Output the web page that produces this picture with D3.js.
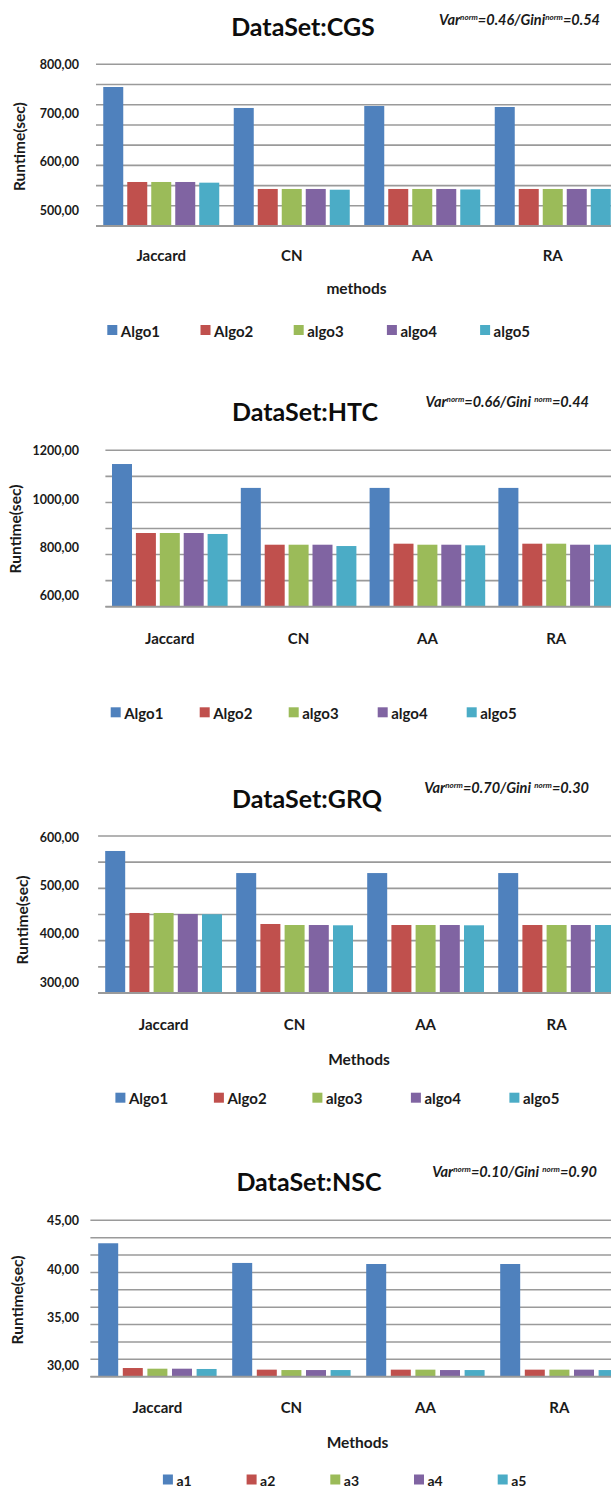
<!DOCTYPE html>
<html>
<head>
<meta charset="utf-8">
<script src="https://cdn.jsdelivr.net/npm/d3@7"></script>
<style>
  html, body { margin: 0; padding: 0; background: #ffffff; }
  svg { display: block; font-family: Lato, "Open Sans", sans-serif; }
</style>
</head>
<body>
<svg id="chart" width="611" height="1488"></svg>
<script>
// ---------------- data ----------------
const categories = ["Jaccard", "CN", "AA", "RA"];
const seriesAlgo = ["Algo1", "Algo2", "algo3", "algo4", "algo5"];
const seriesShort = ["a1", "a2", "a3", "a4", "a5"];
const seriesColors = ["#4F81BD", "#C0504D", "#9BBB59", "#8064A2", "#4BACC6"];

// values per category (rows) and series (columns)
const cgsValues = [
  [753.5, 558.8, 558.8, 558.8, 557.4],
  [710.5, 544.5, 544.5, 544.5, 543.0],
  [714.5, 544.5, 544.5, 544.5, 543.5],
  [712.5, 544.5, 544.5, 544.5, 544.5]
];
const htcValues = [
  [1146, 860, 860, 860, 856],
  [1047, 811.5, 811.5, 811.5, 806],
  [1047, 815.7, 811.5, 811.5, 809],
  [1047, 815.7, 815.7, 811.5, 811.5]
];
const grqValues = [
  [571.7, 443.4, 443.4, 441.3, 440.7],
  [526, 420.6, 418.5, 418.5, 417.9],
  [526, 418.5, 418.5, 418.5, 417.9],
  [526, 418.5, 418.5, 418.5, 418.5]
];
const nscValues = [
  [42.69, 29.76, 29.69, 29.69, 29.66],
  [40.65, 29.59, 29.55, 29.55, 29.55],
  [40.54, 29.59, 29.59, 29.55, 29.55],
  [40.54, 29.59, 29.59, 29.59, 29.55]
];

const cgsTicks = [500, 600, 700, 800];
const htcTicks = [600, 800, 1000, 1200];
const grqTicks = [300, 400, 500, 600];
const nscTicks = [30, 35, 40, 45];

const titles = ["DataSet:CGS", "DataSet:HTC", "DataSet:GRQ", "DataSet:NSC"];
const varNorm = ["0.46", "0.66", "0.70", "0.10"];
const giniNorm = ["0.54", "0.44", "0.30", "0.90"];
const xTitles = ["methods", "", "Methods", "Methods"];

// ---------------- layout ----------------
const W = 611;
const panels = [
  { values: cgsValues, ticks: cgsTicks, series: seriesAlgo, domain: [468.6, 800], grid: 8,
    top: 64.3, bottom: 226, left: 96, step: 130.5, barStep: 24,
    titleX: 303, titleY: 36, annRight: 600, annY: 25, annGap: false,
    yTitleX: 19, yTitleY: 146.7, catY: 255, xTitleX: 356.5, xTitleY: 288.3,
    legX: 107.3, legStep: 93.2, legY: 330, legFont: 15 },
  { values: htcValues, ticks: htcTicks, series: seriesAlgo, domain: [554.5, 1202.9], grid: 6,
    top: 450.3, bottom: 606.7, left: 105.4, step: 128.8, barStep: 23.9,
    titleX: 305, titleY: 421, annRight: 589, annY: 406.7, annGap: true,
    yTitleX: 15, yTitleY: 529, catY: 638.3, xTitleX: 0, xTitleY: 0,
    legX: 110.7, legStep: 89, legY: 712.3, legFont: 15 },
  { values: grqValues, ticks: grqTicks, series: seriesAlgo, domain: [277.8, 602.7], grid: 6,
    top: 836, bottom: 993, left: 98.1, step: 131, barStep: 24.2,
    titleX: 307, titleY: 808, annRight: 589, annY: 793.3, annGap: true,
    yTitleX: 21.7, yTitleY: 920, catY: 1024.3, xTitleX: 359, xTitleY: 1059,
    legX: 115.4, legStep: 98.5, legY: 1097.7, legFont: 15 },
  { values: nscValues, ticks: nscTicks, series: seriesShort, domain: [28.86, 45.07], grid: 9,
    top: 1220.3, bottom: 1376.7, left: 90.4, step: 134, barStep: 24.6,
    titleX: 309, titleY: 1191, annRight: 597, annY: 1176.7, annGap: true,
    yTitleX: 17, yTitleY: 1300, catY: 1407.3, xTitleX: 357.5, xTitleY: 1441.7,
    legX: 162.9, legStep: 83.7, legY: 1479.5, legFont: 14 }
];

const svg = d3.select("#chart");
svg.append("rect").attr("width", W).attr("height", 1488).attr("fill", "#fff");

const fmt = v => d3.format(".2f")(v).replace(".", ",");
const barW = 20;

panels.forEach((p, pi) => {
  const g = svg.append("g");
  const y = d3.scaleLinear().domain(p.domain).range([p.bottom, p.top]);
  const bw = 4 * p.barStep + barW;
  const pad = 1 - bw / p.step;
  const x0 = d3.scaleBand().domain(categories)
    .range([p.left, p.left + categories.length * p.step])
    .paddingInner(pad).paddingOuter(pad / 2);
  const x1 = d3.scaleBand().domain(p.series).range([0, x0.bandwidth()])
    .paddingInner(1 - barW / p.barStep).paddingOuter(0);

  // gridlines (equal divisions of the value range)
  const gridVals = d3.range(p.grid + 1).map(i => p.domain[0] + i * (p.domain[1] - p.domain[0]) / p.grid);
  g.append("g").selectAll("line").data(gridVals).join("line")
    .attr("x1", p.left).attr("x2", W)
    .attr("y1", d => y(d)).attr("y2", d => y(d))
    .attr("stroke", "#9a9a9a").attr("stroke-width", 1.6);

  // bars
  const rows = categories.map((c, ci) => ({ cat: c, vals: p.values[ci] }));
  const grp = g.append("g").selectAll("g").data(rows).join("g")
    .attr("transform", d => `translate(${x0(d.cat)},0)`);
  grp.selectAll("rect").data(d => d.vals.map((v, si) => ({ s: p.series[si], v, si })))
    .join("rect")
    .attr("x", d => x1(d.s)).attr("width", x1.bandwidth())
    .attr("y", d => y(d.v)).attr("height", d => y(p.domain[0]) - y(d.v))
    .attr("fill", d => seriesColors[d.si]);

  // baseline axis
  g.append("line").attr("x1", p.left).attr("x2", W)
    .attr("y1", y(p.domain[0])).attr("y2", y(p.domain[0]))
    .attr("stroke", "#9a9a9a").attr("stroke-width", 1.8);

  // y tick labels
  g.append("g").selectAll("text").data(p.ticks).join("text")
    .attr("x", 79).attr("y", d => y(d))
    .attr("text-anchor", "end").attr("dominant-baseline", "central")
    .attr("font-size", 12.5).attr("font-weight", 700).attr("fill", "#1a1a1a")
    .text(d => fmt(d));

  // y title
  g.append("text")
    .attr("transform", `translate(${p.yTitleX},${p.yTitleY}) rotate(-90)`)
    .attr("text-anchor", "middle").attr("dominant-baseline", "central")
    .attr("font-size", 15.5).attr("font-weight", 700).attr("fill", "#1a1a1a")
    .text("Runtime(sec)");

  // category labels
  g.append("g").selectAll("text").data(categories).join("text")
    .attr("x", d => x0(d) + x0.bandwidth() / 2).attr("y", p.catY)
    .attr("text-anchor", "middle").attr("dominant-baseline", "central")
    .attr("font-size", 15).attr("font-weight", 700).attr("fill", "#1a1a1a")
    .text(d => d);

  // x title
  if (xTitles[pi]) {
    g.append("text").attr("x", p.xTitleX).attr("y", p.xTitleY)
      .attr("text-anchor", "middle").attr("dominant-baseline", "central")
      .attr("font-size", 15.5).attr("font-weight", 700).attr("fill", "#1a1a1a")
      .text(xTitles[pi]);
  }

  // title
  g.append("text").attr("x", p.titleX).attr("y", p.titleY)
    .attr("text-anchor", "middle")
    .attr("font-size", 25).attr("font-weight", 700).attr("fill", "#0d0d0d")
    .text(titles[pi]);

  // annotation
  const ann = g.append("text").attr("x", p.annRight).attr("y", p.annY)
    .attr("text-anchor", "end").attr("font-style", "italic").attr("font-weight", 700)
    .attr("font-size", 14.5).attr("fill", "#1a1a1a");
  ann.append("tspan").text("Var");
  ann.append("tspan").attr("font-size", 8).attr("dy", -5).text("norm");
  ann.append("tspan").attr("dy", 5).text("=" + varNorm[pi] + "/Gini" + (p.annGap ? "  " : ""));
  ann.append("tspan").attr("font-size", 8).attr("dy", -5).text("norm");
  ann.append("tspan").attr("dy", 5).text("=" + giniNorm[pi]);

  // legend
  const leg = g.append("g").selectAll("g").data(p.series).join("g")
    .attr("transform", (d, i) => `translate(${p.legX + i * p.legStep},${p.legY})`);
  leg.append("rect").attr("x", 0).attr("y", -5).attr("width", 10).attr("height", 10)
    .attr("fill", (d, i) => seriesColors[i]);
  leg.append("text").attr("x", 13.5).attr("y", 0.5).attr("dominant-baseline", "central")
    .attr("font-size", p.legFont).attr("font-weight", 700).attr("fill", "#1a1a1a")
    .text(d => d);
});
</script>
</body>
</html>
